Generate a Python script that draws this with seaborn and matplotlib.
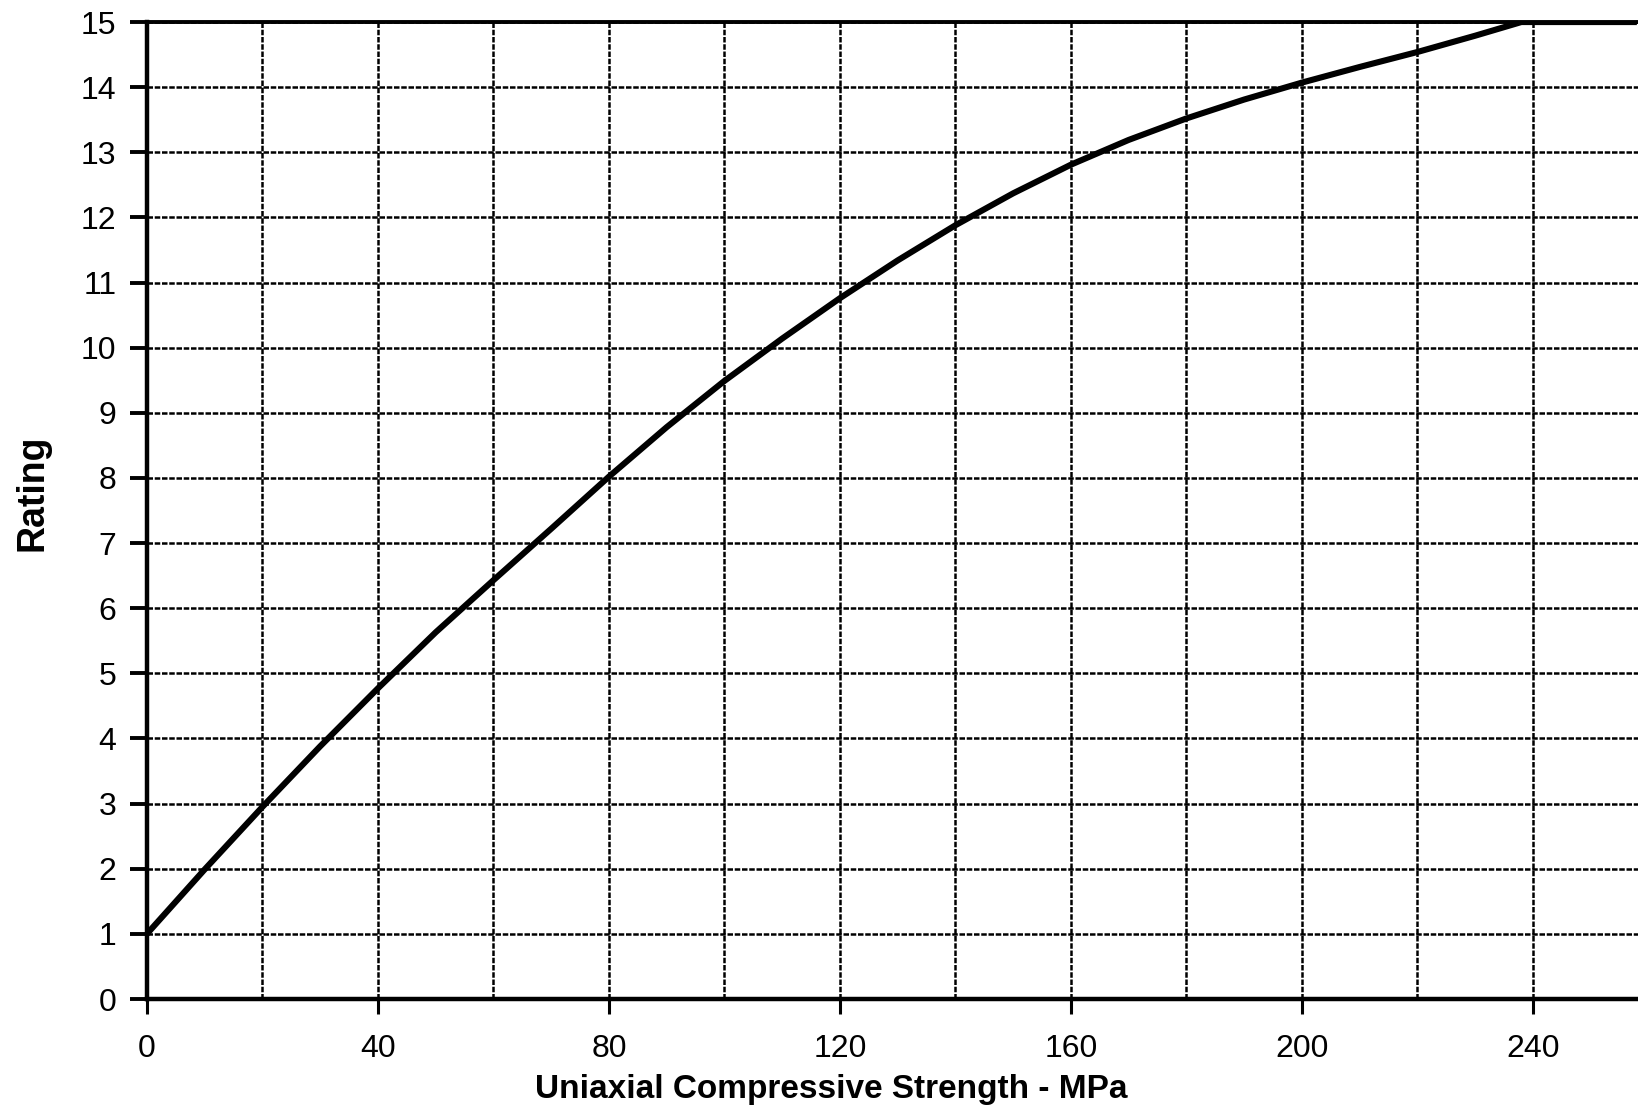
import matplotlib
matplotlib.use("Agg")
import matplotlib.pyplot as plt
from matplotlib.ticker import MultipleLocator
import pandas as pd
import seaborn as sns

# Rating curve for intact rock strength (UCS in MPa)
ucs_mpa = [0, 10, 20, 30, 40, 50, 60, 70, 80, 90, 100, 110, 120, 130,
           140, 150, 160, 170, 180, 190, 200, 210, 220, 230, 238, 258]
rating = [1.0, 1.99, 2.95, 3.88, 4.77, 5.63, 6.43, 7.22, 8.02, 8.78, 9.49,
          10.14, 10.76, 11.34, 11.88, 12.37, 12.81, 13.19, 13.52, 13.81,
          14.07, 14.31, 14.54, 14.79, 15.0, 15.0]

x_major_ticks = [0, 40, 80, 120, 160, 200, 240]
y_ticks = list(range(0, 16))

df = pd.DataFrame({"UCS": ucs_mpa, "Rating": rating})

sns.set_style("white")
plt.rcParams["font.family"] = ["Liberation Sans", "DejaVu Sans"]
plt.rcParams["text.color"] = "black"
plt.rcParams["axes.labelcolor"] = "black"

fig = plt.figure(figsize=(16.38, 11.13), dpi=100)
ax = fig.add_axes([0.0897, 0.1024, 1.0 - 0.0897, 0.9802 - 0.1024])

sns.lineplot(data=df, x="UCS", y="Rating", ax=ax, color="black",
             linewidth=4.4, solid_capstyle="butt", solid_joinstyle="round",
             zorder=5)

ax.set_xlim(0, 258.2)
ax.set_ylim(0, 15)

ax.set_xticks(x_major_ticks)
ax.xaxis.set_minor_locator(MultipleLocator(20))
ax.set_yticks(y_ticks)

grid_style = dict(color="black", linewidth=1.8, linestyle=(0, (2.2, 0.7)))
ax.grid(True, which="both", axis="x", **grid_style)
ax.grid(True, which="major", axis="y", **grid_style)
ax.set_axisbelow(True)

for side in ("left", "bottom"):
    ax.spines[side].set_linewidth(3.2)
    ax.spines[side].set_color("black")
ax.spines["top"].set_linewidth(2.8)
ax.spines["top"].set_color("black")
ax.spines["right"].set_visible(False)

ax.tick_params(axis="x", which="major", direction="out", length=11, width=2.2,
               pad=14, labelsize=23, colors="black")
ax.tick_params(axis="x", which="minor", direction="out", length=6.5, width=2.2,
               colors="black")
ax.tick_params(axis="y", which="major", direction="out", length=12, width=2.8,
               pad=10, labelsize=23, colors="black")
ax.tick_params(left=True, bottom=True)

ax.set_xlabel("Uniaxial Compressive Strength - MPa", fontsize=24,
              fontweight="bold", color="black")
ax.xaxis.set_label_coords(0.459, -0.077)
ax.set_ylabel("Rating", fontsize=27, fontweight="bold", color="black")
ax.yaxis.set_label_coords(-0.065, 0.518)

fig.savefig("out.png", dpi=100, facecolor="white")
